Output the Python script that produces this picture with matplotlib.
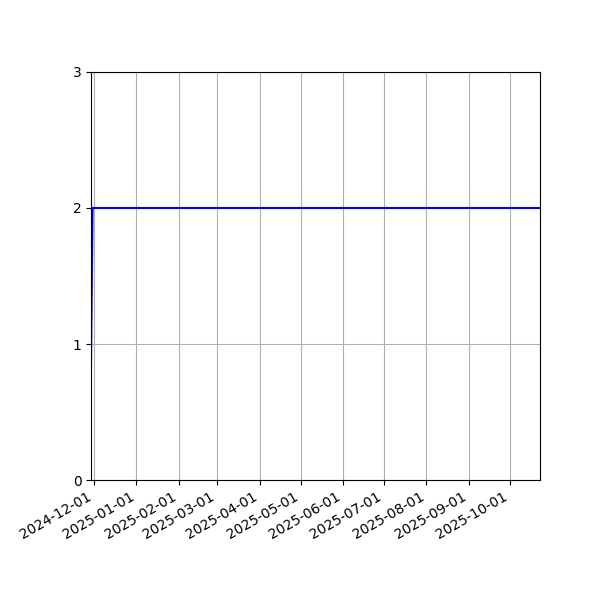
import matplotlib
matplotlib.use("Agg")
import matplotlib.pyplot as plt
import matplotlib.dates as mdates
import pandas as pd

dates = ["2024-11-28", "2024-11-30", "2025-10-23"]
values = [0, 2, 2]
xlim = ["2024-11-29", "2025-10-23"]
yticks = [0, 1, 2, 3]

x = pd.to_datetime(dates)
fig = plt.figure(figsize=(6, 6), dpi=100)
ax = fig.add_axes([0.152, 0.2, 0.748, 0.68])
ax.plot(x, values, color="blue", linewidth=1.5)
ax.set_xlim(pd.to_datetime(xlim[0]), pd.to_datetime(xlim[1]))
ax.set_ylim(0, 3)
ax.set_yticks(yticks)
ax.xaxis.set_major_locator(mdates.MonthLocator())
ax.xaxis.set_major_formatter(mdates.DateFormatter("%Y-%m-%d"))
ax.grid(True)
for lbl in ax.get_xticklabels():
    lbl.set_rotation(30)
    lbl.set_ha("right")
fig.savefig("out.png", dpi=100)
